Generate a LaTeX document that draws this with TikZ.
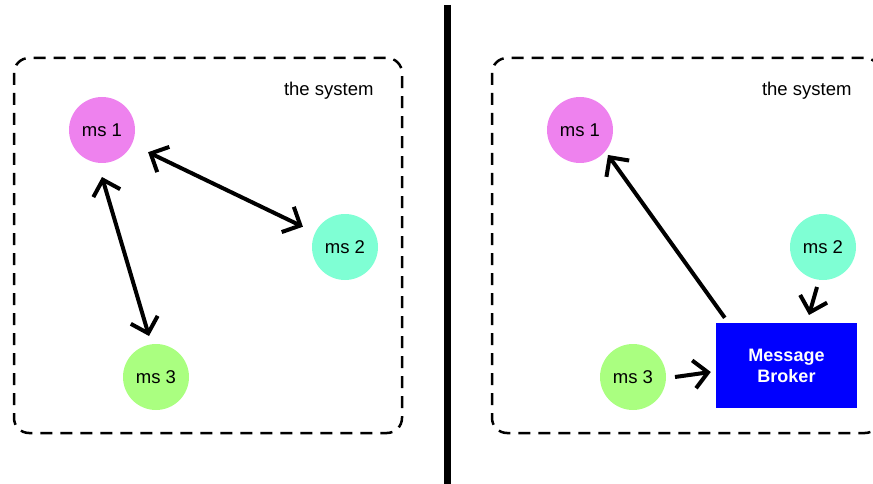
\documentclass[tikz,border=0pt]{standalone}
\usepackage{fontspec}
\setmainfont{Liberation Sans}
\usetikzlibrary{arrows.meta,calc}
\definecolor{msone}{HTML}{EE82EE}
\definecolor{mstwo}{HTML}{7FFFD4}
\definecolor{msthree}{HTML}{AAFF80}
\definecolor{brokerblue}{HTML}{0000FF}
\tikzset{
  service/.style={circle, minimum size=66pt, inner sep=0pt, font=\fontsize{18.5}{21}\selectfont},
  systembox/.style={draw=black, line width=2.5pt, dash pattern=on 12pt off 8pt, rounded corners=15pt},
  systemlabel/.style={anchor=base east, font=\fontsize{18.5}{21}\selectfont},
  broker/.style={fill=brokerblue, text=white, minimum width=141pt, minimum height=85pt, inner sep=0pt,
    align=center, font=\bfseries\fontsize{18}{21}\selectfont},
  link/.style={line width=4pt, -{Straight Barb[length=14pt,width=28pt]}},
  duplex/.style={line width=4pt, {Straight Barb[length=14pt,width=28pt]}-{Straight Barb[length=14pt,width=28pt]}},
}
\begin{document}
\begin{tikzpicture}[x=1pt,y=-1pt]
\useasboundingbox (0,0) rectangle (873,484);
\clip (0,0) rectangle (873,484);

% divider between the two designs
\draw[line width=7pt] (447.5,5) -- (447.5,490);

% ---- point-to-point design ----
\draw[systembox] (14,58) rectangle (402,433);
\node[systemlabel] (labA) at (377,96) {the system};
\node[service, fill=msone]   (a1) at (102,130) {ms 1};
\node[service, fill=mstwo]   (a2) at (345,247) {ms 2};
\node[service, fill=msthree] (a3) at (156,377) {ms 3};
\draw[duplex, shorten <=18pt, shorten >=13.5pt] (a1) -- (a2);
\draw[duplex] ($(a1.center)+(0,47)$) -- ($(a3.center)+(-7,-41)$);

% ---- broker design ----
\draw[systembox] (492,58) rectangle (880,433);
\node[systemlabel] (labB) at (855,96) {the system};
\node[service, fill=msone]   (b1) at (580,130) {ms 1};
\node[service, fill=mstwo]   (b2) at (823,247) {ms 2};
\node[service, fill=msthree] (b3) at (633,377) {ms 3};
\node[broker] (mb) at (786.5,365.5) {Message\\Broker};
\draw[link] ($(mb.north west)+(9,-5)$) -- ($(b1.center)+(28,25)$);
\draw[link] ($(b2.center)+(-6,40)$) -- ($(b2.center)+(-14,68)$);
\draw[link] ($(b3.center)+(42,0)$) -- ($(mb.west)+(-5,6.5)$);
\end{tikzpicture}
\end{document}
